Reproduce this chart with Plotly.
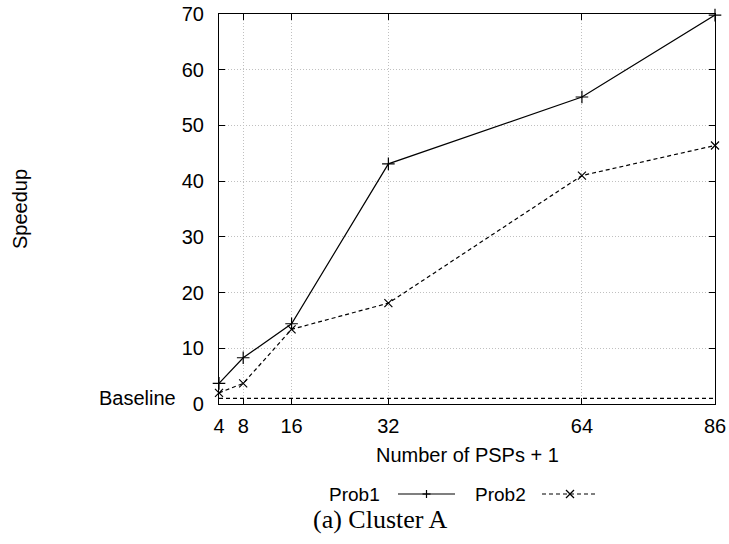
import plotly.graph_objects as go

# Speedup measurements on cluster A
psps = [4, 8, 16, 32, 64, 86]
prob1 = [3.7, 8.3, 14.4, 43.1, 55.1, 69.8]
prob2 = [2.0, 3.7, 13.4, 18.1, 41.0, 46.4]
baseline_level = 1.0
baseline_x = [4, 86]

x_ticks = [4, 8, 16, 32, 64, 86]
y_ticks = [0, 10, 20, 30, 40, 50, 60, 70]

W, H = 729, 544
SANS = "Liberation Sans, Arial, Helvetica, sans-serif"
SERIF = "Liberation Serif, Times New Roman, serif"

# plot frame in pixels
px_left, px_right, px_top, px_bottom = 219, 715, 14, 404


def px(x, y):
    """Pixel position -> paper fractions."""
    return x / W, 1 - y / H


fig = go.Figure()

fig.add_trace(go.Scatter(
    x=psps, y=prob1, mode="lines+markers", name="Prob1",
    line=dict(color="black", width=1.2),
    marker=dict(symbol="cross-thin", size=9, line=dict(color="black", width=1.2)),
    showlegend=False, cliponaxis=False,
))
fig.add_trace(go.Scatter(
    x=psps, y=prob2, mode="lines+markers", name="Prob2",
    line=dict(color="black", width=1.2, dash="4px,3px"),
    marker=dict(symbol="x-thin", size=8, line=dict(color="black", width=1.2)),
    showlegend=False, cliponaxis=False,
))
fig.add_trace(go.Scatter(
    x=baseline_x, y=[baseline_level] * len(baseline_x), mode="lines", name="Baseline",
    line=dict(color="black", width=1.2, dash="4px,3px"),
    showlegend=False,
))

# key drawn below the plot: label text followed by a line sample with its symbol
key_y = 494
half = 4
for label, x0, x1, sym, dash, text_right in [
    ("Prob1", 398, 455, "plus", "solid", 382),
    ("Prob2", 542, 598, "cross", "4px,3px", 528),
]:
    ax0, ay = px(x0, key_y)
    ax1, _ = px(x1, key_y)
    fig.add_shape(type="line", xref="paper", yref="paper",
                  x0=ax0, x1=ax1, y0=ay, y1=ay,
                  line=dict(color="black", width=1.2, dash=dash))
    cx = (x0 + x1) / 2
    if sym == "plus":
        segs = [((cx - half, key_y), (cx + half, key_y)),
                ((cx, key_y - half), (cx, key_y + half))]
    else:
        segs = [((cx - half, key_y - half), (cx + half, key_y + half)),
                ((cx - half, key_y + half), (cx + half, key_y - half))]
    for (sx0, sy0), (sx1, sy1) in segs:
        a0, b0 = px(sx0, sy0)
        a1, b1 = px(sx1, sy1)
        fig.add_shape(type="line", xref="paper", yref="paper",
                      x0=a0, y0=b0, x1=a1, y1=b1,
                      line=dict(color="black", width=1.2))
    tx, ty = px(text_right, key_y)
    fig.add_annotation(
        x=tx, y=ty, xref="paper", yref="paper",
        text=label, showarrow=False, xanchor="right", yanchor="middle",
        font=dict(family=SANS, size=19, color="black"),
    )

axis_common = dict(
    showline=True, linecolor="black", linewidth=1.2, mirror="ticks",
    ticks="inside", ticklen=6, tickwidth=1.2, tickcolor="black",
    showgrid=True, gridcolor="#c0c0c0", gridwidth=1, griddash="1px,2px",
    zeroline=False, automargin=False,
    tickfont=dict(family=SANS, size=20, color="black"),
)

fig.update_layout(
    width=W, height=H,
    margin=dict(l=0, r=0, t=0, b=0, pad=0, autoexpand=False),
    paper_bgcolor="white", plot_bgcolor="white",
    xaxis=dict(
        domain=[px_left / W, px_right / W],
        range=[4, 86], tickmode="array", tickvals=x_ticks,
        ticktext=[str(v) for v in x_ticks], ticklabelstandoff=4,
        **axis_common,
    ),
    yaxis=dict(
        domain=[1 - px_bottom / H, 1 - px_top / H],
        range=[0, 70], tickmode="array", tickvals=y_ticks,
        ticktext=[str(v) for v in y_ticks], ticklabelstandoff=10,
        **axis_common,
    ),
)

# axis titles, baseline tag and caption
fx, fy = px(467, 455)
fig.add_annotation(
    x=fx, y=fy, xref="paper", yref="paper",
    text="Number of PSPs + 1", showarrow=False, xanchor="center", yanchor="middle",
    font=dict(family=SANS, size=20, color="black"),
)
fx, fy = px(20, 209)
fig.add_annotation(
    x=fx, y=fy, xref="paper", yref="paper",
    text="Speedup", textangle=-90, showarrow=False, xanchor="center", yanchor="middle",
    font=dict(family=SANS, size=20, color="black"),
)
fig.add_annotation(
    x=178 / W, y=baseline_level, xref="paper", yref="y",
    text="Baseline", showarrow=False, xanchor="right", yanchor="middle",
    font=dict(family=SANS, size=20, color="black"),
)
fx, fy = px(380, 519)
fig.add_annotation(
    x=fx, y=fy, xref="paper", yref="paper",
    text="(a) Cluster A", showarrow=False, xanchor="center", yanchor="middle",
    font=dict(family=SERIF, size=26, color="black"),
)

fig.write_html("out.html")
